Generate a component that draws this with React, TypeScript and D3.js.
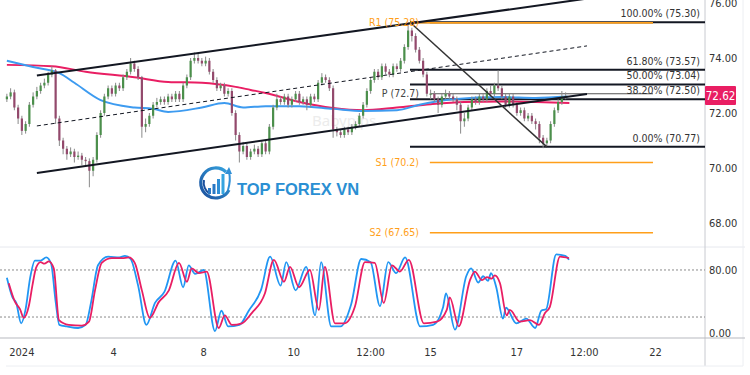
import React from 'react';
import * as d3 from 'd3';

// ---------- DATA ----------
const firstOpen = 72.5;
const closes = [
  72.6, 72.75, 72.2, 71.8, 71.35, 71.6, 72.3, 72.6, 72.8, 73.0,
  73.1, 73.4, 73.55, 71.8, 71.0, 70.7, 70.5, 70.6, 70.4, 70.45,
  70.3, 70.25, 69.9, 70.3, 71.2, 72.0, 72.6, 72.9, 72.7, 73.0,
  72.9, 73.3, 73.5, 73.8, 73.6, 73.3, 71.5, 71.6, 71.9, 72.3,
  72.4, 72.5, 72.4, 72.6, 72.5, 72.7, 72.5, 73.0, 73.3, 73.9,
  74.0, 73.9, 73.8, 73.9, 73.5, 73.2, 72.9, 73.0, 72.7, 72.8,
  72.0, 71.2, 70.6, 70.8, 70.4, 70.6, 70.7, 70.5, 70.9, 70.6,
  71.5, 72.2, 72.5, 72.4, 72.6, 72.3, 72.5, 72.7, 72.4, 72.5,
  72.3, 72.6, 72.5, 73.1, 73.3, 73.2, 72.9, 71.4, 71.3, 71.2,
  71.4, 71.3, 71.5, 71.6, 71.9, 72.3, 72.8, 73.2, 73.5, 73.3,
  73.7, 73.5, 73.4, 73.7, 73.6, 73.9, 74.4, 75.0, 74.8, 74.3,
  73.9, 73.4, 72.7, 72.7, 72.5, 72.3, 72.6, 72.7, 72.6, 72.5,
  72.3, 71.7, 71.8, 72.2, 72.5, 72.4, 72.6, 72.5, 72.8, 72.7,
  73.0, 72.9, 72.6, 72.3, 72.6, 72.3, 72.0, 72.1, 71.8, 71.9,
  71.7, 71.6, 71.1, 70.9, 71.0, 71.6, 72.1, 72.4, 72.6, 72.62,
];
const highs = [
  72.7, 72.9, 72.85, 72.3, 71.9, 71.7, 72.4, 72.75, 72.95, 73.1,
  73.25, 73.5, 73.7, 73.6, 71.9, 71.1, 70.8, 70.75, 70.7, 70.6,
  70.55, 70.4, 70.35, 70.4, 71.3, 72.1, 72.7, 73.0, 73.0, 73.1,
  73.1, 73.4, 73.6, 74.0, 73.9, 73.7, 73.35, 71.8, 72.0, 72.4,
  72.55, 72.6, 72.6, 72.7, 72.7, 72.8, 72.8, 73.1, 73.4, 74.0,
  74.2, 74.15, 74.0, 74.05, 74.0, 73.6, 73.3, 73.1, 73.1, 72.9,
  72.9, 72.1, 71.3, 70.95, 70.9, 70.7, 70.85, 70.8, 71.0, 71.0,
  71.6, 72.3, 72.7, 72.6, 72.7, 72.7, 72.6, 72.8, 72.8, 72.6,
  72.6, 72.7, 72.7, 73.2, 73.45, 73.4, 73.3, 73.0, 71.5, 71.4,
  71.5, 71.5, 71.6, 71.7, 72.0, 72.4, 72.9, 73.3, 73.6, 73.6,
  73.8, 73.8, 73.6, 73.8, 73.8, 74.0, 74.5, 75.3, 75.1, 74.9,
  74.4, 74.0, 73.5, 72.85, 72.8, 72.6, 72.7, 72.85, 72.8, 72.7,
  72.6, 72.4, 72.0, 72.3, 72.6, 72.6, 72.7, 72.7, 72.9, 73.0,
  73.1, 73.55, 73.0, 72.7, 72.7, 72.7, 72.4, 72.2, 72.2, 72.0,
  72.0, 71.8, 71.7, 71.2, 71.1, 71.7, 72.2, 72.5, 72.8, 72.75,
];
const lows = [
  72.4, 72.5, 72.1, 71.6, 71.2, 71.25, 71.5, 72.2, 72.5, 72.7,
  72.9, 73.0, 73.3, 71.6, 70.8, 70.5, 70.3, 70.4, 70.2, 70.3,
  70.1, 70.1, 69.3, 69.7, 70.2, 71.1, 71.9, 72.5, 72.6, 72.6,
  72.8, 72.8, 73.2, 73.4, 73.5, 73.2, 71.1, 71.3, 71.5, 71.8,
  72.2, 72.3, 72.3, 72.3, 72.4, 72.4, 72.4, 72.4, 72.9, 73.2,
  73.8, 73.8, 73.7, 73.7, 73.4, 73.1, 72.8, 72.8, 72.6, 72.6,
  71.9, 71.0, 70.2, 70.5, 70.3, 70.3, 70.5, 70.4, 70.4, 70.5,
  70.5, 71.4, 72.1, 72.3, 72.3, 72.2, 72.2, 72.4, 72.3, 72.3,
  72.1, 72.2, 72.4, 72.4, 73.0, 73.1, 72.8, 71.1, 71.15, 71.1,
  71.1, 71.2, 71.2, 71.4, 71.5, 71.8, 72.2, 72.7, 73.1, 73.2,
  73.2, 73.4, 73.3, 73.3, 73.5, 73.5, 73.8, 74.3, 74.6, 74.2,
  73.8, 73.3, 72.6, 72.5, 72.4, 72.0, 72.2, 72.5, 72.5, 72.4,
  72.1, 71.25, 71.5, 71.7, 72.1, 72.3, 72.3, 72.4, 72.4, 72.6,
  72.6, 72.8, 72.5, 72.2, 72.2, 72.2, 71.9, 71.9, 71.7, 71.7,
  71.6, 71.4, 70.9, 70.72, 70.8, 70.9, 71.5, 72.0, 72.3, 72.5,
];

// moving averages, [bar index, price]
const maPink: [number, number][] = [
  [0, 73.75], [12, 73.7], [21, 73.5], [34, 73.3], [43, 73.13], [52, 73.1],
  [61, 72.95], [65, 72.84], [69, 72.73], [78, 72.4], [87, 72.18], [95, 72.1],
  [104, 72.2], [113, 72.32], [122, 72.4], [132, 72.42], [141, 72.4], [150, 72.36],
];
const maBlue: [number, number][] = [
  [0, 73.9], [7, 73.67], [14, 73.45], [18, 73.1], [25, 72.47], [34, 72.2],
  [39, 72.15], [43, 72.04], [52, 72.2], [58, 72.36], [63, 72.2], [69, 72.25],
  [78, 72.25], [87, 72.15], [95, 72.07], [104, 72.1], [110, 72.3], [119, 72.5],
  [132, 72.58], [141, 72.55], [149.5, 72.6],
];

// stochastic %D (pink) and %K (blue), [bar index, value]
const stochD: [number, number][] = [
  [0.5, 63], [2.1, 40], [3.5, 30], [4.5, 19], [5.9, 35], [6.8, 60], [7.8, 83], [9, 90],
  [10, 88], [11.2, 91], [12.5, 82], [13.9, 16], [16.5, 10], [20, 9], [21.9, 14],
  [23.5, 54], [25.3, 89], [28, 95], [30.7, 95], [32.5, 96], [34.1, 89], [36, 54],
  [38.1, 19], [40.5, 39], [43.2, 54], [45.9, 89], [48, 65], [49.3, 82], [51.2, 76],
  [53.3, 78], [56.5, 6], [58.1, 22], [60, 10], [62.7, 12], [65.3, 25], [68.8, 50],
  [71.2, 93], [73.9, 65], [75.5, 84], [77.9, 58], [80.8, 80], [83.2, 29], [84.8, 84],
  [87.5, 12], [90.1, 12], [92.8, 33], [95.5, 90], [98.1, 89], [100.5, 38], [102.7, 86],
  [104.8, 78], [107.2, 93], [111.2, 12], [114.7, 14], [117.3, 29], [118.1, 45],
  [120.5, 8], [123.5, 67], [124.8, 78], [126.7, 67], [128, 71], [129.3, 69], [130.1, 73],
  [131.5, 63], [133.3, 22], [134.1, 29], [136.8, 14], [139.5, 16], [141.9, 10],
  [143.5, 25], [144.8, 33], [147.5, 97], [149.9, 95],
];
const stochK: [number, number][] = [
  [0, 70], [1.5, 45], [2.5, 38], [3.8, 12], [5, 30], [6.2, 70], [7.5, 92], [9, 92],
  [10.5, 96], [11.8, 88], [13, 40], [14, 10], [16, 8], [19, 6], [21, 10], [22.5, 40],
  [24.3, 86], [27, 97], [30, 96], [31.5, 98], [33, 94], [35, 60], [37.2, 10], [39.5, 38],
  [42, 52], [45, 92], [47, 58], [48.5, 86], [50.2, 75], [52.5, 80], [55.5, 2], [57.2, 28],
  [59, 8], [62, 10], [64.5, 28], [67.8, 55], [70.2, 97], [73, 60], [74.5, 90], [77, 54],
  [79.8, 84], [82.2, 22], [83.8, 90], [86.5, 8], [89, 8], [91.8, 36], [94.5, 94],
  [97, 90], [99.5, 34], [101.7, 90], [103.8, 76], [106.2, 96], [110.2, 8], [113.7, 10],
  [116.3, 32], [117.1, 50], [119.5, 4], [122.5, 72], [123.8, 82], [125.7, 64], [127, 72],
  [128.3, 66], [129.1, 76], [130.5, 58], [132.3, 18], [133.1, 32], [135.8, 12],
  [138.5, 18], [140.9, 6], [142.5, 28], [143.8, 30], [146.5, 100], [148.9, 98], [149.9, 93],
];

// trend channel [index, price]
const channelUpper: [number, number][] = [[8, 73.36], [154.7, 76.16]];
const channelLower: [number, number][] = [[8, 69.82], [154.7, 72.69]];
const channelMid: [number, number][] = [[8, 71.53], [154.7, 74.44]];
const fibSwing: [number, number][] = [[107.5, 75.3], [144, 70.77]];

const fibPct = ['100.00%', '61.80%', '50.00%', '38.20%', '0.00%'];
const fibLevels = [75.3, 73.57, 73.04, 72.5, 70.77];

const pivotNames = ['R1', 'P', 'S1', 'S2'];
const pivotValues = [75.28, 72.7, 70.2, 67.65];
const pivotLabels = ['75.28', '72.7', '70.2', '67.65'];
const pivotStartIdx = 113.3;
const pivotEndIdx = 172.8;

const priceTicks = [76, 74, 72, 70, 68];
const stochTicks = [80, 0];
const stochBands = [80, 20];
const timeTickIdx = [4.5, 29, 53, 77, 97.5, 113.5, 136.5, 154.5, 173.5];
const timeTickLabels = ['2024', '4', '8', '10', '12:00', '15', '17', '12:00', '22'];
const lastPrice = 72.62;

// ---------- CHART ----------
const W = 750;
const H = 375;
const AXIS_X = 705;
const FONT = "'Liberation Sans Narrow','DejaVu Sans Condensed','Roboto Condensed',Roboto,sans-serif";

const x = d3.scaleLinear().domain([0, 186.67]).range([5, AXIS_X]);
const y = d3.scaleLinear().domain([68, 76]).range([223, 3]);
const ys = d3.scaleLinear().domain([0, 100]).range([332.7, 254.3]);

const UP = '#4b8f4b';
const DOWN = '#93496c';
const PINK = '#e91e63';
const BLUE = '#2196f3';
const ORANGE = '#ff9f1a';
const BLACK = '#131722';

export default function App() {
  const bw = 2.2;
  const opens = closes.map((_, i) => (i === 0 ? firstOpen : closes[i - 1]));

  const lineP = d3.line<[number, number]>().x(d => x(d[0] + 0.5)).y(d => y(d[1])).curve(d3.curveMonotoneX);
  const lineS = d3.line<[number, number]>().x(d => x(d[0] + 0.5)).y(d => ys(d[1])).curve(d3.curveMonotoneX);
  const straight = d3.line<[number, number]>().x(d => x(d[0] + 0.5)).y(d => y(d[1]));

  return (
    <svg width={W} height={H} style={{ position: 'fixed', left: 0, top: 0, background: '#fff' }} fontFamily={FONT}>
      <defs>
        <clipPath id="main"><rect x={0} y={0} width={AXIS_X} height={246} /></clipPath>
        <clipPath id="sub"><rect x={0} y={248} width={AXIS_X} height={90} /></clipPath>
        <linearGradient id="lg" x1="0" x2="1" y1="1" y2="0">
          <stop offset="0" stopColor="#1b4f9c" />
          <stop offset="1" stopColor="#35a4e0" />
        </linearGradient>
      </defs>

      {/* frame lines */}
      <line x1={0} x2={745} y1={247} y2={247} stroke="#e6e8ee" />
      <line x1={AXIS_X} x2={AXIS_X} y1={0} y2={366} stroke="#c8cad0" />
      <line x1={743} x2={743} y1={0} y2={366} stroke="#eceef2" />
      <line x1={6} x2={743} y1={366} y2={366} stroke="#eceef2" />
      <line x1={0} x2={745} y1={338} y2={338} stroke="#b8bac0" strokeWidth={1.2} />

      {/* watermark */}
      <text x={312} y={126} fontSize={15} fill="#ececec" fontFamily="'Noto Sans',sans-serif">Babypips</text>

      <g clipPath="url(#main)">
        {/* pivots */}
        {pivotValues.map((v, i) => (
          <line key={'pv' + i} x1={x(pivotStartIdx)} x2={x(pivotEndIdx)} y1={y(v)} y2={y(v)}
            stroke={pivotNames[i] === 'P' ? '#555' : ORANGE} strokeWidth={pivotNames[i] === 'P' ? 1 : 1.5} />
        ))}

        {/* fib levels */}
        {fibLevels.map((v, i) => (
          <line key={'fb' + i} x1={x(fibSwing[0][0] + 0.5)} x2={AXIS_X} y1={y(v)} y2={y(v)} stroke={BLACK} strokeWidth={2} />
        ))}
        <line x1={x(pivotStartIdx) - 20} x2={x(pivotEndIdx)} y1={y(pivotValues[0])} y2={y(pivotValues[0])} stroke={ORANGE} strokeWidth={1.5} />

        {/* moving averages */}
        <path d={lineP(maPink) || ''} fill="none" stroke={PINK} strokeWidth={2} />
        <path d={lineP(maBlue) || ''} fill="none" stroke="#3d9bf0" strokeWidth={2} />

        {/* candles */}
        {closes.map((c, i) => {
          const o = opens[i];
          const up = c >= o;
          const cx = x(i + 0.5);
          const top = y(Math.max(o, c));
          const bot = y(Math.min(o, c));
          return (
            <g key={'c' + i}>
              <line x1={cx} x2={cx} y1={y(highs[i])} y2={y(lows[i])} stroke="#8a8a8a" strokeWidth={1} />
              <rect x={cx - bw / 2} y={top} width={bw} height={Math.max(1, bot - top)} fill={up ? UP : DOWN} />
            </g>
          );
        })}

        {/* channel */}
        <path d={straight(channelUpper) || ''} stroke={BLACK} strokeWidth={2} fill="none" />
        <path d={straight(channelLower) || ''} stroke={BLACK} strokeWidth={2} fill="none" />
        <path d={straight(channelMid) || ''} stroke={BLACK} strokeWidth={1} strokeDasharray="4,3" fill="none" />
        <path d={straight(fibSwing) || ''} stroke="#333" strokeWidth={1.5} fill="none" />

        {/* fib labels */}
        {fibLevels.map((v, i) => (
          <text key={'ft' + i} x={700} y={y(v) - 5} textAnchor="end" fontSize={10.5} fill="#333">
            {`${fibPct[i]} (${v.toFixed(2)})`}
          </text>
        ))}

        {/* pivot labels */}
        {pivotValues.map((v, i) => (
          <text key={'pl' + i} x={x(pivotStartIdx) - 11} y={y(v) + 3.5} textAnchor="end" fontSize={10.5}
            fill={pivotNames[i] === 'P' ? '#444' : ORANGE}>
            {`${pivotNames[i]} (${pivotLabels[i]})`}
          </text>
        ))}
      </g>

      {/* logo */}
      <g>
        <path d="M 226 172 A 15 15 0 1 0 229 190" fill="none" stroke="url(#lg)" strokeWidth={3.2} />
        <path d="M 204 180 A 13 13 0 0 0 210 194" fill="none" stroke="#1b4f9c" strokeWidth={2} />
        <rect x={208} y={188} width={3} height={6} fill="#2a78c4" />
        <rect x={212.5} y={184} width={3} height={10} fill="#2a78c4" />
        <rect x={217} y={179} width={3} height={15} fill="#2f8fd6" />
        <rect x={221.5} y={174} width={3} height={20} fill="#35a4e0" />
        <path d="M 228 190 Q 231 180 229 172" fill="none" stroke="#2f8fd6" strokeWidth={2} />
        <path d="M 225 174 L 229 167 L 232 174 Z" fill="#2f8fd6" />
        <text x={237} y={195} fontSize={16.5} fontWeight="bold" fill="#2a8fd3" fontFamily="'Liberation Sans',Arial,sans-serif">TOP FOREX VN</text>
      </g>

      {/* stochastic */}
      <g clipPath="url(#sub)">
        {stochBands.map(b => (
          <line key={'sb' + b} x1={0} x2={AXIS_X} y1={ys(b)} y2={ys(b)} stroke="#8a8a8a" strokeDasharray="2,2" />
        ))}
        <path d={lineS(stochK) || ''} fill="none" stroke={BLUE} strokeWidth={1.8} />
        <path d={lineS(stochD) || ''} fill="none" stroke={PINK} strokeWidth={1.8} />
      </g>

      {/* right axes */}
      {priceTicks.map(t => (
        <text key={'pt' + t} x={709} y={y(t) + 4} fontSize={11} fill="#333">{t.toFixed(2)}</text>
      ))}
      {stochTicks.map(t => (
        <text key={'st' + t} x={709} y={ys(t) + 4} fontSize={11} fill="#333">{t.toFixed(2)}</text>
      ))}

      {/* last price */}
      <rect x={AXIS_X} y={y(lastPrice) - 10} width={31} height={19} fill={PINK} rx={1} />
      <text x={AXIS_X + 15.5} y={y(lastPrice) + 4} textAnchor="middle" fontSize={11.5} fill="#fff">{lastPrice.toFixed(2)}</text>

      {/* time axis */}
      {timeTickIdx.map((t, i) => (
        <text key={'tt' + i} x={x(t)} y={356} textAnchor="middle" fontSize={11} fill="#333">{timeTickLabels[i]}</text>
      ))}
    </svg>
  );
}
